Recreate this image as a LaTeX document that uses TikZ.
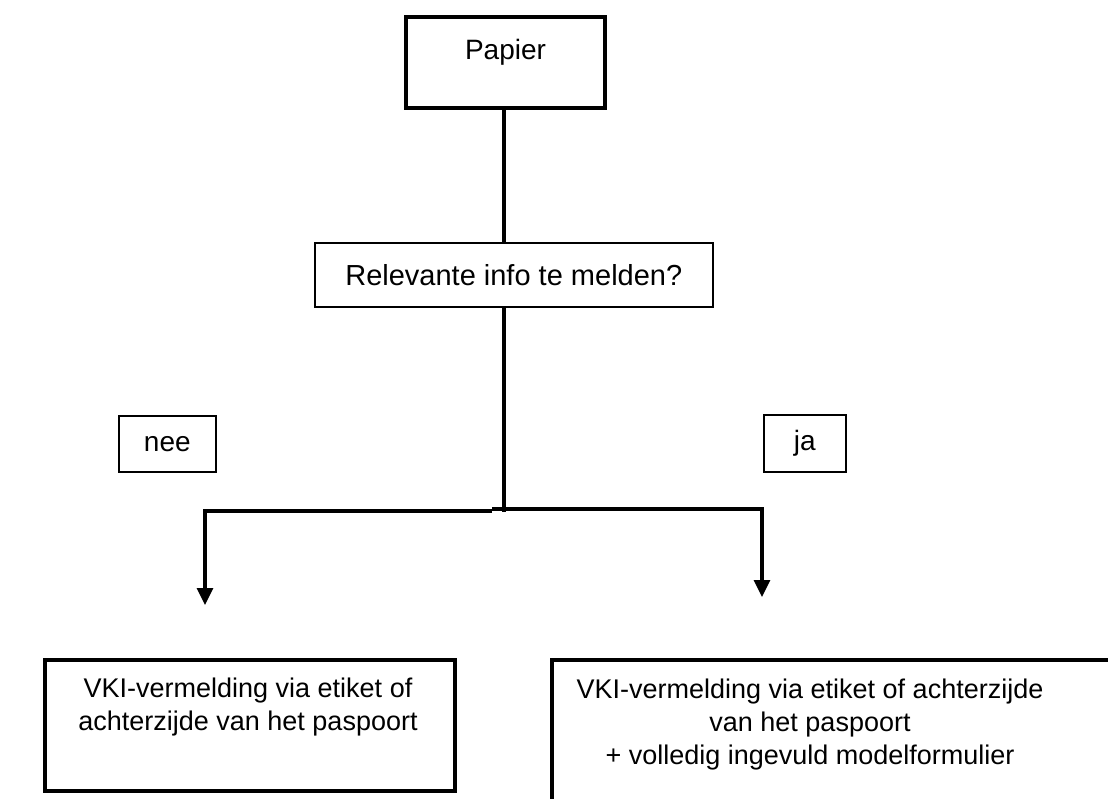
\documentclass[tikz,border=0pt]{standalone}
\usepackage{fontspec}
\setmainfont{Liberation Sans}
\usetikzlibrary{arrows.meta}

\begin{document}
\begin{tikzpicture}[x=0.5pt, y=-0.5pt,
        font=\fontsize{14}{16.5}\selectfont,
        >={Triangle[width=8pt,length=8.5pt]},
        thickbox/.style={draw, line width=2pt, inner sep=0pt},
        thinbox/.style={draw, line width=0.8pt, inner sep=0pt},
        outtext/.style={align=center, font=\fontsize{13.5}{16.5}\selectfont},
        conn/.style={line width=1.6pt}]
        \useasboundingbox (0,0) rectangle (1108,798);

        \node[thickbox, anchor=north west, minimum width=99.5pt, text height=21pt, text depth=24.5pt] (1) at (404,15) {Papier};
        \node[thinbox, anchor=north west, minimum width=199pt, minimum height=32pt, font=\fontsize{14.5}{16.5}\selectfont] (2) at (314,242) {Relevante info te melden?};
        \node[thinbox, anchor=north west, minimum width=48.5pt, minimum height=28pt] (3) at (118,415) {nee};
        \node[thinbox, anchor=north west, minimum width=41pt, minimum height=28.5pt] (4) at (763,414) {ja};
        \node[thickbox, anchor=north west, minimum width=205pt, minimum height=65.5pt] (5) at (43,658) {};
        \node[outtext] (5t) at (248,707) {VKI-vermelding via etiket of\\achterzijde van het paspoort};
        \node[thickbox, anchor=north west, minimum width=290pt, minimum height=90pt] (6) at (550,658) {};
        \node[outtext] (6t) at (810,725) {VKI-vermelding via etiket of achterzijde\\van het paspoort\\+ volledig ingevuld modelformulier};

        \coordinate (split) at (504,512);
        \coordinate (splitl) at (492,511);
        \coordinate (splitr) at (492,509);
        \coordinate (neeend) at (205,605);
        \coordinate (jaend) at (762,597);

        \draw[conn] (1.south -| split) -- (2.north -| split);
        \draw[conn] (2.south -| split) -- (split);
        \draw[conn, ->] (splitl) -| (neeend);
        \draw[conn, ->] (splitr) -| (jaend);
    \end{tikzpicture}
\end{document}
